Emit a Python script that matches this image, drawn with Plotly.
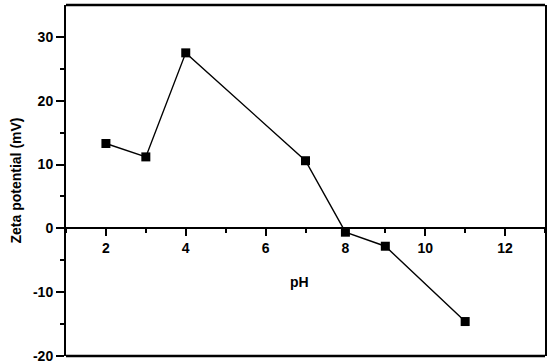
import plotly.graph_objects as go

ph = [2, 3, 4, 7, 8, 9, 11]
zeta = [13.3, 11.2, 27.5, 10.6, -0.6, -2.8, -14.6]

y_ticks = [-20, -10, 0, 10, 20, 30]
y_ticklabels = ["-20", "-10", "0", "10", "20", "30"]
x_ticks = [2, 4, 6, 8, 10, 12]
x_ticklabels = ["2", "4", "6", "8", "10", "12"]

YMIN, YMAX = -20, 35
XMIN, XMAX = 1, 13

font = dict(family="Liberation Sans, Arial, sans-serif", size=14, color="black", weight="bold")

fig = go.Figure()
fig.add_trace(go.Scatter(
    x=ph, y=zeta, mode="lines+markers",
    line=dict(color="black", width=1.4),
    marker=dict(symbol="square", size=9, color="black"),
    showlegend=False,
))

fig.update_layout(
    width=550, height=364,
    margin=dict(l=66, r=5, t=5, b=8, autoexpand=False),
    paper_bgcolor="white", plot_bgcolor="white",
    font=font,
    xaxis=dict(
        range=[XMIN, XMAX], tickvals=x_ticks, ticktext=x_ticklabels,
        anchor="free", position=(0 - YMIN) / (YMAX - YMIN),
        showline=True, linecolor="black", linewidth=2,
        ticks="outside", ticklen=7, tickwidth=2, tickcolor="black",
        minor=dict(dtick=1, ticks="outside", ticklen=4, tickwidth=2, tickcolor="black"),
        showgrid=False, zeroline=False, tickfont=font, automargin=False,
    ),
    yaxis=dict(
        range=[YMIN, YMAX], tickvals=y_ticks, ticktext=y_ticklabels,
        showline=True, linecolor="black", linewidth=2, mirror=True,
        ticks="outside", ticklen=8, tickwidth=2, tickcolor="black",
        minor=dict(tickvals=[-15, -5, 5, 15, 25], ticks="outside", ticklen=4, tickwidth=2, tickcolor="black"),
        showgrid=False, zeroline=False, tickfont=font, automargin=False,
        title=dict(text="Zeta potential (mV)", font=font, standoff=8),
    ),
    shapes=[
        dict(type="line", xref="paper", yref="paper", x0=0, y0=1, x1=1, y1=1,
             line=dict(color="black", width=2.5)),
        dict(type="line", xref="paper", yref="paper", x0=0, y0=0, x1=1, y1=0,
             line=dict(color="black", width=2.5)),
    ],
    annotations=[dict(text="pH", xref="paper", yref="paper", x=(299 - 66) / (545 - 66),
                      y=(356 - 282) / (356 - 5), showarrow=False, font=font,
                      xanchor="center", yanchor="middle")],
)

fig.write_html("out.html", config={"displayModeBar": False},
               post_script="document.body.style.margin='0';")
